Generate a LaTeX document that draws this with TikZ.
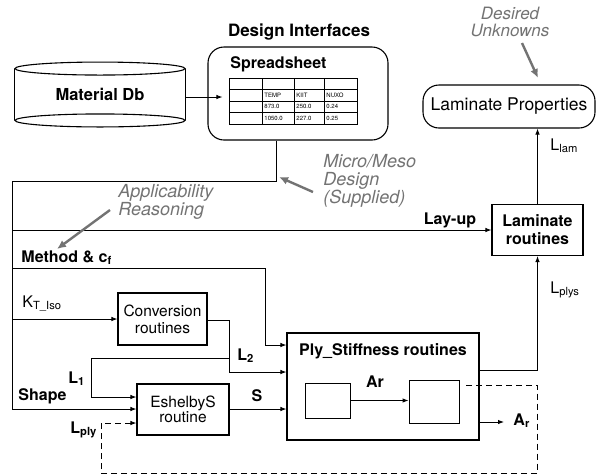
\documentclass[tikz,border=0pt]{standalone}
\usepackage{fontspec}
\setmainfont{TeX Gyre Heros}
\usetikzlibrary{arrows.meta}
\begin{document}
\begin{tikzpicture}[x=1pt,y=-1pt,
  line width=0.9pt,
  arr/.style={-{Latex[length=6pt,width=4.5pt]}},
  box/.style={draw,line width=1.1pt,inner sep=0pt,align=center},
  lbl/.style={font=\fontsize{16}{18}\selectfont\bfseries,inner sep=0pt},
  rlbl/.style={font=\fontsize{16}{18}\selectfont,inner sep=0pt},
  note/.style={text=black!55,inner sep=0pt,align=left},
  garr/.style={draw=black!55,line width=2.4pt,-{Latex[length=9pt,width=8pt]}},
  cell/.style={font=\fontsize{6}{6}\selectfont,anchor=west,inner sep=0pt}
]
\useasboundingbox (0,0) rectangle (597,475);

% Material Db cylinder
\node[minimum width=170pt,minimum height=51pt,inner sep=0pt,font=\fontsize{16.5}{18}\selectfont\bfseries] (matdb) at (100,94.5) {Material Db};
\draw[line width=1.1pt] (matdb.north west) -- (matdb.south west) (matdb.north east) -- (matdb.south east);
\draw[line width=1.1pt] (matdb.north) ellipse [x radius=85pt, y radius=6.5pt];
\draw[line width=1.1pt] (matdb.south) ellipse [x radius=85pt, y radius=6.5pt];

% Spreadsheet
\node[box,rounded corners=16pt,minimum width=180pt,minimum height=93pt] (ss) at (298,93.5) {};
\node[lbl,anchor=base west] (sst) at (230,68) {Spreadsheet};
\node[lbl,anchor=base,font=\fontsize{17}{19}\selectfont\bfseries] (di) at (299,36) {Design Interfaces};
\draw[line width=0.8pt] (229,78) rectangle (357,124);
\foreach \yy in {89,101,112} \draw[line width=0.6pt] (229,\yy) -- (357,\yy);
\foreach \xx in {262,294,324} \draw[line width=0.6pt] (\xx,78) -- (\xx,124);
\node[cell] (t1) at (264,95) {TEMP};
\node[cell] (t2) at (296,95) {KIIT};
\node[cell] (t3) at (326,95) {NUXO};
\node[cell] (t4) at (264,106.5) {873.0};
\node[cell] (t5) at (296,106.5) {250.0};
\node[cell] (t6) at (326,106.5) {0.24};
\node[cell] (t7) at (264,118) {1050.0};
\node[cell] (t8) at (296,118) {227.0};
\node[cell] (t9) at (326,118) {0.25};
\draw[arr] ([yshift=-2.5pt]matdb.east) -- ++(37,0);

% Desired unknowns
\node[note,align=center,anchor=north,font=\fontsize{17}{17}\selectfont\itshape] (du) at (510,7) {Desired\\Unknowns};
\node[box,rounded corners=16pt,minimum width=172pt,minimum height=43pt,font=\fontsize{17.5}{19}\selectfont] (lp) at (509,106.5) {Laminate Properties};
\draw[garr] (522,43) -- (538,78);

% Laminate routines
\node[box,minimum width=91pt,minimum height=51pt,font=\fontsize{16}{18}\selectfont\bfseries] (lamr) at (537.5,230) {Laminate\\routines};
\draw[arr] (lamr.north) -- (lamr.north |- lp.south);
\node[rlbl,anchor=base west] (llam) at (550,150) {L\textsubscript{lam}};

% Notes
\node[note,anchor=north west,font=\fontsize{18}{18}\selectfont\itshape] (mm) at (323,154) {Micro/Meso\\Design\\(Supplied)};
\node[note,anchor=north west,font=\fontsize{18}{17}\selectfont\itshape] (ap) at (118,184) {Applicability\\Reasoning};

% Boxes
\node[box,minimum width=89pt,minimum height=52pt,font=\fontsize{15.5}{17}\selectfont] (conv) at (162.5,319) {Conversion\\routines};
\node[box,minimum width=92pt,minimum height=51pt,font=\fontsize{15.5}{15.5}\selectfont] (esh) at (183,409.5) {EshelbyS\\routine};
\node[box,minimum width=192pt,minimum height=107pt] (ply) at (383,386.5) {};
\node[lbl,anchor=base] (plyt) at (383,355) {Ply\_Stiffness routines};
\node[box,line width=0.9pt,minimum width=45pt,minimum height=35pt] (in1) at (327.5,400.5) {};
\node[box,line width=0.9pt,minimum width=50pt,minimum height=43pt] (in2) at (434,401.5) {};
\draw[arr] (in1.east) -- (in2.west |- in1.east);
\node[lbl,anchor=base] (arl) at (375,387) {Ar};

% Main distribution
\coordinate (c1) at (276,181);
\coordinate (c0) at (12,181);
\coordinate (cshape) at (12,409);
\draw[arr] (ss.south -| c1) -- (c1) -- (c0) -- (cshape) -- (esh.west |- cshape);
\node[lbl,anchor=base west] (shp) at (18,400) {Shape};

\coordinate (clay) at (12,230);
\draw[arr] (clay) -- (lamr.west |- clay);
\node[lbl,anchor=base] (lay) at (450,224) {Lay-up};

\coordinate (cm0) at (12,268);
\coordinate (cm1) at (265,268);
\coordinate (cm2) at (265,345);
\draw[arr] (cm0) -- (cm1) -- (cm2) -- (ply.west |- cm2);
\node[lbl,anchor=base west] (meth) at (21,262) {Method \& c\textsubscript{f}};

\coordinate (ck) at (12,319);
\draw[arr] (ck) -- (conv.west |- ck);
\node[rlbl,anchor=base west] (kt) at (22,307) {K\textsubscript{T\_Iso}};

\coordinate (cc1) at (229,320);
\coordinate (cc2) at (229,372);
\draw[arr] (conv.east |- cc1) -- (cc1) -- (cc2) -- (ply.west |- cc2);
\node[lbl,anchor=base west] (l2) at (237,360) {L\textsubscript{2}};

\coordinate (cl0) at (229,358);
\coordinate (cl1) at (91,358);
\coordinate (cl2) at (91,397);
\draw[arr] (cl0) -- (cl1) -- (cl2) -- (esh.west |- cl2);
\node[lbl,anchor=base west] (l1) at (68,383) {L\textsubscript{1}};

\draw[arr] (esh.east |- cshape) -- (ply.west |- cshape);
\node[lbl,anchor=base] (sl) at (257,401) {S};

\coordinate (cp1) at (537.5,370);
\draw[arr] (ply.east |- cp1) -- (cp1) -- (lamr.south);
\node[rlbl,anchor=base west] (lplys) at (550,293) {L\textsubscript{plys}};

\coordinate (car) at (504,422);
\draw[arr] (ply.east |- car) -- (car);
\node[lbl,anchor=base west] (arr2) at (513,425) {A\textsubscript{r}};

\coordinate (d0) at (466,385);
\coordinate (d1) at (537.5,385);
\coordinate (d2) at (537.5,473);
\coordinate (d3) at (101,473);
\coordinate (d4) at (101,423);
\draw[arr,dash pattern=on 6pt off 4pt] (d0) -- (d1) -- (d2) -- (d3) -- (d4) -- (esh.west |- d4);
\node[lbl,anchor=base west] (lply) at (70,433) {L\textsubscript{ply}};

% gray arrows
\draw[garr] (313,192) -- (279,177);
\draw[garr] (110,210) -- (57,249);
\end{tikzpicture}
\end{document}
